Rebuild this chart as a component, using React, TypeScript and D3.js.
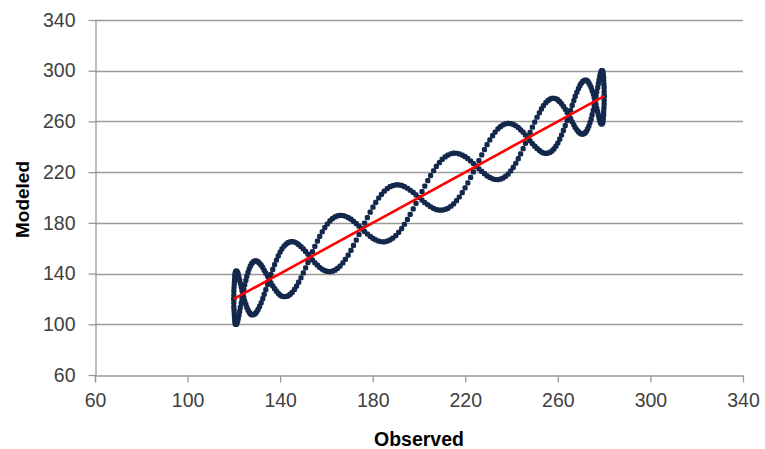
import React, { useEffect, useRef } from 'react'
import * as d3 from 'd3'

// observed values, first batch of samples
const observed = [
  120.0, 120.0, 120.2, 120.4, 120.6, 121.0, 121.4, 121.9, 122.5, 123.2,
  123.9, 124.7, 125.6, 126.6, 127.6, 128.7, 129.9, 131.1, 132.5, 133.8,
  135.3, 136.8, 138.4, 140.0, 141.7, 143.4, 145.2, 147.1, 149.0, 151.0,
  153.0, 155.0, 157.1, 159.3, 161.5, 163.7, 165.9, 168.2, 170.6, 172.9,
  175.3, 177.7, 180.1, 182.6, 185.0, 187.5, 190.0, 192.5, 195.0, 197.5,
  200.0, 202.5, 205.0, 207.5, 210.0, 212.5, 215.0, 217.4, 219.9, 222.3,
  224.7, 227.1, 229.4, 231.8, 234.1, 236.3, 238.5, 240.7, 242.9, 245.0,
  247.0, 249.0, 251.0, 252.9, 254.8, 256.6, 258.3, 260.0, 261.6, 263.2,
  264.7, 266.2, 267.5, 268.9, 270.1, 271.3, 272.4, 273.4, 274.4, 275.3,
  276.1, 276.8, 277.5, 278.1, 278.6, 279.0, 279.4, 279.6, 279.8, 280.0,
  280.0,
]
const modeledRise = [
  120.0, 113.5, 107.9, 103.4, 100.6, 100.0, 101.4, 104.9, 110.2, 116.7,
  123.9, 131.2, 137.9, 143.6, 147.6, 149.7, 149.9, 148.1, 144.8, 140.3,
  135.3, 130.3, 126.1, 123.0, 121.7, 122.4, 125.2, 130.1, 136.7, 144.5,
  153.0, 161.5, 169.4, 176.3, 181.5, 184.7, 185.9, 185.2, 182.9, 179.4,
  175.3, 171.2, 167.8, 165.6, 165.0, 166.5, 170.0, 175.5, 182.7, 191.0,
  200.0, 209.0, 217.3, 224.5, 230.0, 233.5, 235.0, 234.4, 232.2, 228.8,
  224.7, 220.6, 217.1, 214.8, 214.1, 215.3, 218.5, 223.7, 230.6, 238.5,
  247.0, 255.5, 263.3, 269.9, 274.8, 277.6, 278.3, 277.0, 273.9, 269.7,
  264.7, 259.7, 255.2, 251.9, 250.1, 250.3, 252.4, 256.4, 262.1, 268.8,
  276.1, 283.3, 289.8, 295.1, 298.6, 300.0, 299.4, 296.6, 292.1, 286.5,
  280.0,
]
const modeledFall = [
  120.0, 126.5, 132.5, 137.4, 140.6, 142.0, 141.4, 138.9, 134.8, 129.7,
  123.9, 118.2, 113.3, 109.6, 107.6, 107.7, 109.9, 114.1, 120.2, 127.3,
  135.3, 143.3, 150.7, 157.0, 161.7, 164.4, 165.2, 164.1, 161.3, 157.5,
  153.0, 148.5, 144.8, 142.3, 141.5, 142.7, 145.9, 151.2, 158.3, 166.4,
  175.3, 184.2, 192.4, 199.6, 205.0, 208.5, 210.0, 209.5, 207.3, 204.0,
  200.0, 196.0, 192.7, 190.5, 190.0, 191.5, 195.0, 200.4, 207.6, 215.8,
  224.7, 233.6, 241.7, 248.8, 254.1, 257.3, 258.5, 257.7, 255.2, 251.5,
  247.0, 242.5, 238.7, 235.9, 234.8, 235.6, 238.3, 243.0, 249.3, 256.7,
  264.7, 272.7, 279.8, 285.9, 290.1, 292.3, 292.4, 290.4, 286.7, 281.8,
  276.1, 270.3, 265.2, 261.1, 258.6, 258.0, 259.4, 262.6, 267.5, 273.5,
  280.0,
]

// observed values, second batch of samples (between the first ones)
const observedB = [
  120.0, 120.1, 120.3, 120.5, 120.8, 121.2, 121.7, 122.2, 122.8, 123.5,
  124.3, 125.2, 126.1, 127.1, 128.2, 129.3, 130.5, 131.8, 133.1, 134.6,
  136.0, 137.6, 139.2, 140.8, 142.6, 144.3, 146.2, 148.0, 150.0, 152.0,
  154.0, 156.1, 158.2, 160.4, 162.6, 164.8, 167.1, 169.4, 171.7, 174.1,
  176.5, 178.9, 181.3, 183.8, 186.3, 188.7, 191.2, 193.7, 196.2, 198.7,
  201.3, 203.8, 206.3, 208.8, 211.3, 213.8, 216.2, 218.7, 221.1, 223.5,
  225.9, 228.3, 230.6, 232.9, 235.2, 237.4, 239.6, 241.8, 243.9, 246.0,
  248.0, 250.0, 252.0, 253.8, 255.7, 257.5, 259.2, 260.8, 262.4, 264.0,
  265.5, 266.9, 268.2, 269.5, 270.7, 271.8, 272.9, 273.9, 274.8, 275.7,
  276.5, 277.2, 277.8, 278.3, 278.8, 279.2, 279.5, 279.8, 279.9, 280.0,
]
const modeledRiseB = [
  116.7, 110.6, 105.5, 101.8, 100.1, 100.5, 103.0, 107.4, 113.3, 120.2,
  127.6, 134.7, 140.9, 145.8, 148.9, 150.0, 149.2, 146.6, 142.6, 137.9,
  132.7, 128.1, 124.4, 122.1, 121.9, 123.6, 127.5, 133.2, 140.5, 148.7,
  157.3, 165.6, 173.0, 179.1, 183.3, 185.5, 185.8, 184.2, 181.2, 177.4,
  173.2, 169.4, 166.5, 165.1, 165.6, 168.0, 172.5, 178.9, 186.7, 195.4,
  204.6, 213.3, 221.1, 227.5, 232.0, 234.5, 234.9, 233.5, 230.6, 226.8,
  222.6, 218.8, 215.8, 214.2, 214.5, 216.7, 220.9, 227.0, 234.4, 242.7,
  251.3, 259.5, 266.8, 272.5, 276.4, 278.2, 277.9, 275.6, 271.9, 267.3,
  262.2, 257.4, 253.4, 250.8, 250.0, 251.1, 254.2, 259.1, 265.3, 272.4,
  279.8, 286.7, 292.6, 297.0, 299.5, 299.9, 298.2, 294.6, 289.4, 283.3,
]
const modeledFallB = [
  123.3, 129.6, 135.1, 139.2, 141.5, 141.9, 140.4, 137.0, 132.3, 126.8,
  121.0, 115.7, 111.3, 108.4, 107.5, 108.6, 111.8, 117.0, 123.6, 131.3,
  139.3, 147.1, 154.0, 159.5, 163.3, 165.0, 164.9, 162.8, 159.5, 155.3,
  150.7, 146.6, 143.4, 141.7, 141.9, 144.1, 148.4, 154.6, 162.2, 170.8,
  179.8, 188.4, 196.1, 202.5, 207.0, 209.4, 209.9, 208.5, 205.7, 202.0,
  198.0, 194.3, 191.5, 190.1, 190.6, 193.1, 197.5, 203.9, 211.6, 220.2,
  229.2, 237.8, 245.4, 251.6, 255.9, 258.1, 258.3, 256.6, 253.4, 249.3,
  244.7, 240.5, 237.2, 235.1, 235.0, 236.8, 240.5, 246.0, 252.9, 260.7,
  268.8, 276.4, 283.0, 288.2, 291.4, 292.5, 291.6, 288.7, 284.3, 279.0,
  273.2, 267.7, 263.0, 259.6, 258.1, 258.5, 260.8, 265.0, 270.4, 276.7,
]

// red trend line ends (observed, modeled)
const trendObserved = [120, 280]
const trendModeled = [120, 280]

const xTicks = [60, 100, 140, 180, 220, 260, 300, 340]
const yTicks = [60, 100, 140, 180, 220, 260, 300, 340]

const W = 765
const H = 449

export default function App() {
  const ref = useRef<SVGSVGElement>(null)

  useEffect(() => {
    const svg = d3.select(ref.current)
    svg.selectAll('*').remove()

    const margin = { top: 20, right: 22, bottom: 74, left: 95 }
    const x = d3.scaleLinear().domain([60, 340]).range([margin.left, W - margin.right])
    const y = d3.scaleLinear().domain([60, 340]).range([H - margin.bottom, margin.top])

    const grey = '#9a9a9a'
    const font = '"Liberation Sans", Arial, sans-serif'

    // horizontal gridlines
    svg.append('g')
      .selectAll('line')
      .data(yTicks.slice(1))
      .enter().append('line')
      .attr('x1', x(60)).attr('x2', x(340))
      .attr('y1', d => Math.round(y(d)) + 0.5).attr('y2', d => Math.round(y(d)) + 0.5)
      .attr('stroke', grey).attr('stroke-width', 1.3)

    // y axis
    const yAxis = svg.append('g')
      .attr('transform', `translate(${Math.round(x(60)) + 0.5},0)`)
      .call(d3.axisLeft(y).tickValues(yTicks).tickSize(7).tickPadding(13).tickSizeOuter(0))
    // x axis
    const xAxis = svg.append('g')
      .attr('transform', `translate(0,${Math.round(y(60)) + 0.5})`)
      .call(d3.axisBottom(x).tickValues(xTicks).tickSize(7).tickPadding(11).tickSizeOuter(0))

    ;[yAxis, xAxis].forEach(g => {
      g.select('.domain').attr('stroke', grey).attr('stroke-width', 1.3)
      g.selectAll('.tick line').attr('stroke', grey).attr('stroke-width', 1.3)
      g.selectAll('.tick text')
        .attr('fill', '#404040')
        .style('font-family', font)
        .style('font-size', '19.5px')
    })
    // y axis line runs a little past the x axis
    svg.append('line')
      .attr('x1', Math.round(x(60)) + 0.5).attr('x2', Math.round(x(60)) + 0.5)
      .attr('y1', y(60)).attr('y2', y(60) + 7)
      .attr('stroke', grey).attr('stroke-width', 1.3)

    // scatter points
    const points: [number, number][] = []
    observed.forEach((o, i) => points.push([o, modeledRise[i]]))
    observedB.forEach((o, i) => points.push([o, modeledRiseB[i]]))
    observed.forEach((o, i) => points.push([o, modeledFall[i]]))
    observedB.forEach((o, i) => points.push([o, modeledFallB[i]]))

    const s = 5.2
    svg.append('g')
      .selectAll('rect')
      .data(points)
      .enter().append('rect')
      .attr('x', d => x(d[0]) - s / 2)
      .attr('y', d => y(d[1]) - s / 2)
      .attr('width', s).attr('height', s)
      .attr('rx', 1.6).attr('ry', 1.6)
      .attr('fill', '#13284a')

    // trend line
    svg.append('line')
      .attr('x1', x(trendObserved[0])).attr('y1', y(trendModeled[0]))
      .attr('x2', x(trendObserved[1])).attr('y2', y(trendModeled[1]))
      .attr('stroke', '#ff0000')
      .attr('stroke-width', 2.6)

    // axis titles
    svg.append('text')
      .attr('x', (x(60) + x(340)) / 2)
      .attr('y', 446)
      .attr('text-anchor', 'middle')
      .style('font-family', font)
      .style('font-size', '19.5px')
      .style('font-weight', 'bold')
      .attr('fill', '#000')
      .text('Observed')

    svg.append('text')
      .attr('transform', `translate(29,${(y(60) + y(340)) / 2 + 2}) rotate(-90)`)
      .attr('text-anchor', 'middle')
      .style('font-family', font)
      .style('font-size', '19px')
      .style('font-weight', 'bold')
      .attr('fill', '#000')
      .text('Modeled')
  }, [])

  return (
    <div style={{ position: 'absolute', left: 0, top: 0 }}>
      <svg ref={ref} width={W} height={H} style={{ display: 'block', background: '#fff' }} />
    </div>
  )
}
